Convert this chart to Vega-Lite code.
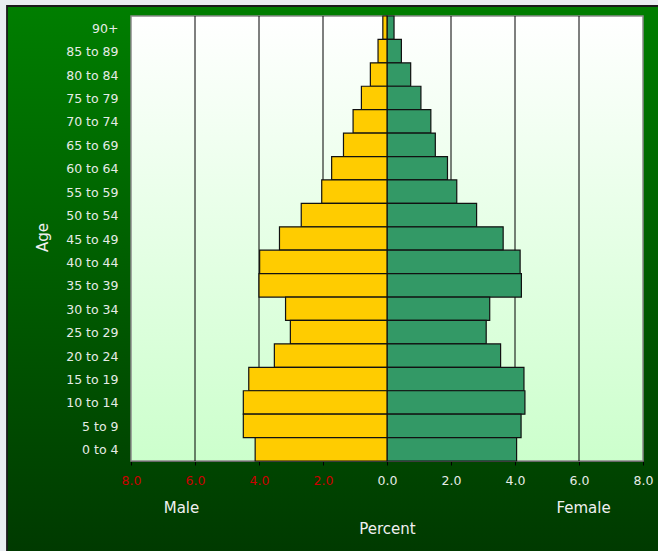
{
  "$schema": "https://vega.github.io/schema/vega-lite/v6.json",
  "width": 652,
  "height": 546,
  "autosize": {"type": "none"},
  "padding": {"left": 7, "top": 6, "right": 0, "bottom": 0},
  "background": "#e9edf1",
  "config": {
    "font": "DejaVu Sans",
    "view": {
      "fill": {"gradient": "linear", "x1": 0, "y1": 0, "x2": 0, "y2": 1, "stops": [{"offset": 0, "color": "#007e00"}, {"offset": 1, "color": "#003a00"}]},
      "stroke": "#1a1a1a",
      "strokeWidth": 1.8
    },
    "axis": {
      "labelFont": "DejaVu Sans",
      "titleFont": "DejaVu Sans",
      "labelFontSize": 12.5,
      "titleFontSize": 15,
      "titleFontWeight": "normal",
      "titleColor": "#f0f0f0",
      "labelColor": "#e6ece6",
      "domainColor": "#000000",
      "tickColor": "#000000",
      "grid": false,
      "labelFlush": false,
      "labelOverlap": false,
      "labelBound": false
    }
  },
  "data": {
    "values": [
      {"age": "90+", "male": 0.13, "female": 0.22},
      {"age": "85 to 89", "male": 0.28, "female": 0.45},
      {"age": "80 to 84", "male": 0.52, "female": 0.74},
      {"age": "75 to 79", "male": 0.80, "female": 1.06},
      {"age": "70 to 74", "male": 1.06, "female": 1.37},
      {"age": "65 to 69", "male": 1.36, "female": 1.51},
      {"age": "60 to 64", "male": 1.73, "female": 1.89},
      {"age": "55 to 59", "male": 2.04, "female": 2.18},
      {"age": "50 to 54", "male": 2.68, "female": 2.80},
      {"age": "45 to 49", "male": 3.36, "female": 3.63},
      {"age": "40 to 44", "male": 3.98, "female": 4.16},
      {"age": "35 to 39", "male": 4.00, "female": 4.20},
      {"age": "30 to 34", "male": 3.17, "female": 3.21},
      {"age": "25 to 29", "male": 3.02, "female": 3.10},
      {"age": "20 to 24", "male": 3.52, "female": 3.55},
      {"age": "15 to 19", "male": 4.32, "female": 4.28},
      {"age": "10 to 14", "male": 4.49, "female": 4.31},
      {"age": "5 to 9", "male": 4.49, "female": 4.19},
      {"age": "0 to 4", "male": 4.12, "female": 4.05}
    ]
  },
  "layer": [
    {
      "layer": [
        {
          "data": {"values": [{"part": "plot area"}]},
          "mark": {
            "type": "rect",
            "fill": {"gradient": "linear", "x1": 0, "y1": 0, "x2": 0, "y2": 1, "stops": [{"offset": 0, "color": "#ffffff"}, {"offset": 1, "color": "#ccffcc"}]},
            "stroke": "#8a8a8a",
            "strokeWidth": 1.5
          },
          "encoding": {
            "x": {"datum": -8, "type": "quantitative", "scale": {"domain": [0, 8], "range": [380, 636]},
              "axis": {"orient": "bottom", "title": "Percent", "labels": false, "ticks": false, "domain": false, "offset": -91, "titleX": 380, "titleY": 67, "titleBaseline": "middle", "titleAlign": "center", "titleAnchor": null}},
            "x2": {"datum": 8},
            "y": {"datum": "90+", "type": "nominal", "bandPosition": 0,
              "scale": {"type": "band", "domain": ["90+", "85 to 89", "80 to 84", "75 to 79", "70 to 74", "65 to 69", "60 to 64", "55 to 59", "50 to 54", "45 to 49", "40 to 44", "35 to 39", "30 to 34", "25 to 29", "20 to 24", "15 to 19", "10 to 14", "5 to 9", "0 to 4"], "range": [10, 455], "paddingInner": 0, "paddingOuter": 0},
              "axis": null},
            "y2": {"datum": "0 to 4", "bandPosition": 1}
          }
        },
        {
          "data": {"values": [{"g": -6}, {"g": -4}, {"g": -2}, {"g": 2}, {"g": 4}, {"g": 6}]},
          "mark": {"type": "rule", "color": "#000000", "strokeWidth": 1},
          "encoding": {
            "x": {"field": "g", "type": "quantitative", "scale": {"domain": [0, 8], "range": [380, 636]}, "axis": null},
            "y": {"datum": "90+", "type": "nominal", "bandPosition": 0,
              "scale": {"type": "band", "domain": ["90+", "85 to 89", "80 to 84", "75 to 79", "70 to 74", "65 to 69", "60 to 64", "55 to 59", "50 to 54", "45 to 49", "40 to 44", "35 to 39", "30 to 34", "25 to 29", "20 to 24", "15 to 19", "10 to 14", "5 to 9", "0 to 4"], "range": [10, 455], "paddingInner": 0, "paddingOuter": 0},
              "axis": null},
            "y2": {"datum": "0 to 4", "bandPosition": 1}
          }
        },
        {
          "mark": {"type": "bar", "color": "#339966", "stroke": "#111111", "strokeWidth": 1.2},
          "encoding": {
            "x": {"field": "female", "type": "quantitative", "scale": {"domain": [0, 8], "range": [380, 636]},
              "axis": {"orient": "bottom", "values": [0, 2, 4, 6, 8], "format": ".1f", "title": "Female", "offset": -91, "tickSize": 4, "labelPadding": 9, "titleX": 576, "titleY": 46.5, "titleBaseline": "middle", "titleAlign": "center", "titleAnchor": null}},
            "y": {"field": "age", "type": "nominal",
              "scale": {"type": "band", "domain": ["90+", "85 to 89", "80 to 84", "75 to 79", "70 to 74", "65 to 69", "60 to 64", "55 to 59", "50 to 54", "45 to 49", "40 to 44", "35 to 39", "30 to 34", "25 to 29", "20 to 24", "15 to 19", "10 to 14", "5 to 9", "0 to 4"], "range": [10, 455], "paddingInner": 0, "paddingOuter": 0},
              "axis": null}
          }
        }
      ],
      "resolve": {"axis": {"x": "independent", "y": "independent"}}
    },
    {
      "mark": {"type": "bar", "color": "#ffcc00", "stroke": "#111111", "strokeWidth": 1.2},
      "encoding": {
        "x": {"field": "male", "type": "quantitative", "scale": {"domain": [0, 8], "range": [380, 124]},
          "axis": {"orient": "bottom", "values": [2, 4, 6, 8], "format": ".1f", "labelColor": "#cc0000", "title": "Male", "offset": -91, "tickSize": 4, "labelPadding": 9, "titleX": 174, "titleY": 46.5, "titleBaseline": "middle", "titleAlign": "center", "titleAnchor": null}},
        "y": {"field": "age", "type": "nominal",
          "scale": {"type": "band", "domain": ["90+", "85 to 89", "80 to 84", "75 to 79", "70 to 74", "65 to 69", "60 to 64", "55 to 59", "50 to 54", "45 to 49", "40 to 44", "35 to 39", "30 to 34", "25 to 29", "20 to 24", "15 to 19", "10 to 14", "5 to 9", "0 to 4"], "range": [10, 455], "paddingInner": 0, "paddingOuter": 0},
          "axis": {"orient": "left", "title": "Age", "offset": -124, "domain": false, "ticks": false, "labelPadding": 13, "labelOffset": 1, "titleX": -84, "titleY": 231, "titleAngle": -90, "titleBaseline": "alphabetic", "titleAlign": "center", "titleAnchor": null}}
      }
    }
  ],
  "resolve": {"scale": {"x": "independent"}, "axis": {"x": "independent", "y": "independent"}}
}
